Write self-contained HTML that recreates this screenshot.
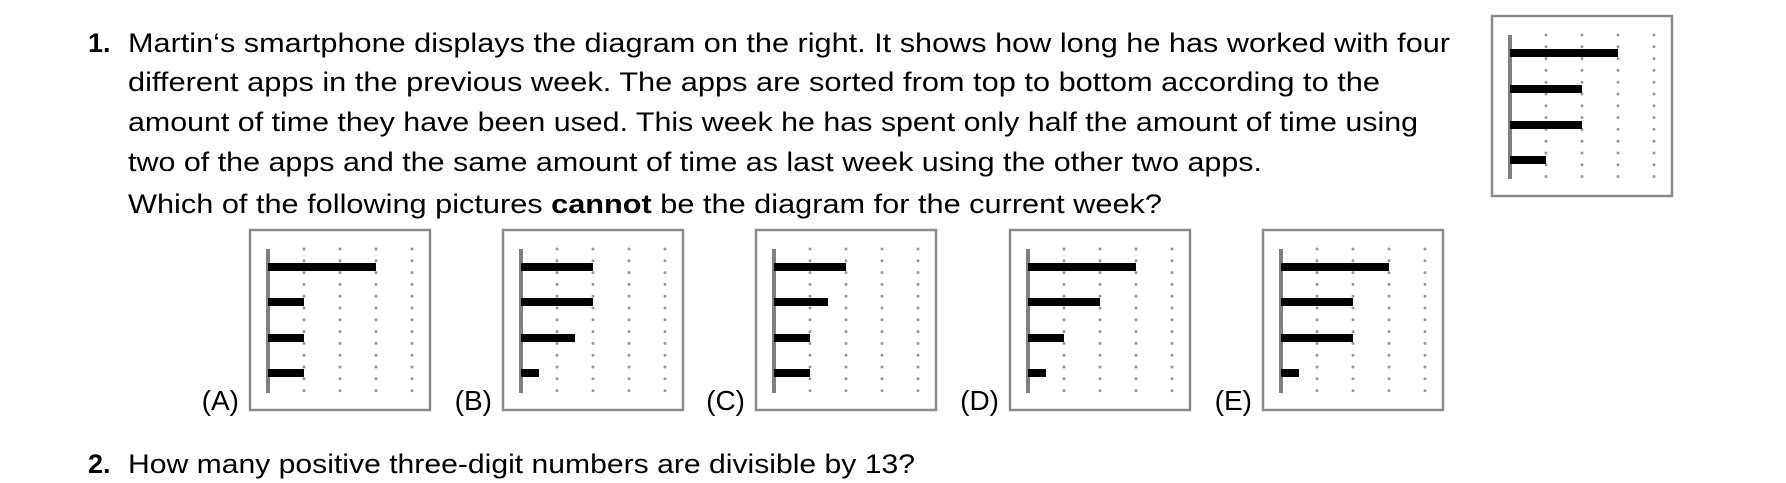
<!DOCTYPE html>
<html><head><meta charset="utf-8"><style>
html,body{margin:0;padding:0;background:#fff;}
svg{display:block;}
text{font-family:"Liberation Sans",sans-serif;fill:#000;}
</style></head><body>
<svg width="1786" height="483" viewBox="0 0 1786 483" xmlns="http://www.w3.org/2000/svg">
<defs>
<g id="grid">
  <rect x="0" y="0" width="180" height="180" fill="none" stroke="#8a8a8a" stroke-width="2.5"/>
  <g stroke="#999" stroke-width="3" stroke-linecap="round" stroke-dasharray="0 11.8">
    <line x1="54" y1="19" x2="54" y2="164"/>
    <line x1="90" y1="19" x2="90" y2="164"/>
    <line x1="126" y1="19" x2="126" y2="164"/>
    <line x1="162" y1="19" x2="162" y2="164"/>
  </g>
  <rect x="16" y="19" width="4" height="144" fill="#808080"/>
</g>
</defs>

<g font-size="27">
<text x="88" y="52" font-weight="bold">1.</text>
<text x="128" y="52" textLength="1322" lengthAdjust="spacingAndGlyphs">Martin‘s smartphone displays the diagram on the right. It shows how long he has worked with four</text>
<text x="128" y="91" textLength="1252" lengthAdjust="spacingAndGlyphs">different apps in the previous week. The apps are sorted from top to bottom according to the</text>
<text x="128" y="131" textLength="1290" lengthAdjust="spacingAndGlyphs">amount of time they have been used. This week he has spent only half the amount of time using</text>
<text x="128" y="171" textLength="1134" lengthAdjust="spacingAndGlyphs">two of the apps and the same amount of time as last week using the other two apps.</text>
<text x="128" y="213" textLength="1034" lengthAdjust="spacingAndGlyphs">Which of the following pictures <tspan font-weight="bold">cannot</tspan> be the diagram for the current week?</text>
<text x="88" y="473" font-weight="bold">2.</text>
<text x="128" y="473" textLength="787" lengthAdjust="spacingAndGlyphs">How many positive three-digit numbers are divisible by 13?</text>
</g>

<g transform="translate(1492,16)">
<use href="#grid"/>
<rect x="18" y="33" width="108" height="8"/>
<rect x="18" y="69" width="72" height="8"/>
<rect x="18" y="105" width="72" height="8"/>
<rect x="18" y="140" width="36" height="8"/>
</g>

<g font-size="28" text-anchor="end">
<text x="239" y="410">(A)</text>
<text x="492" y="410">(B)</text>
<text x="745" y="410">(C)</text>
<text x="999" y="410">(D)</text>
<text x="1252" y="410">(E)</text>
</g>

<g transform="translate(250,230)">
<use href="#grid"/>
<rect x="18" y="33" width="108" height="8"/>
<rect x="18" y="68" width="36" height="8"/>
<rect x="18" y="104" width="36" height="8"/>
<rect x="18" y="139" width="36" height="8"/>
</g>
<g transform="translate(503,230)">
<use href="#grid"/>
<rect x="18" y="33" width="72" height="8"/>
<rect x="18" y="68" width="72" height="8"/>
<rect x="18" y="104" width="54" height="8"/>
<rect x="18" y="139" width="18" height="8"/>
</g>
<g transform="translate(756,230)">
<use href="#grid"/>
<rect x="18" y="33" width="72" height="8"/>
<rect x="18" y="68" width="54" height="8"/>
<rect x="18" y="104" width="36" height="8"/>
<rect x="18" y="139" width="36" height="8"/>
</g>
<g transform="translate(1010,230)">
<use href="#grid"/>
<rect x="18" y="33" width="108" height="8"/>
<rect x="18" y="68" width="72" height="8"/>
<rect x="18" y="104" width="36" height="8"/>
<rect x="18" y="139" width="18" height="8"/>
</g>
<g transform="translate(1263,230)">
<use href="#grid"/>
<rect x="18" y="33" width="108" height="8"/>
<rect x="18" y="68" width="72" height="8"/>
<rect x="18" y="104" width="72" height="8"/>
<rect x="18" y="139" width="18" height="8"/>
</g>
</svg>
</body></html>
